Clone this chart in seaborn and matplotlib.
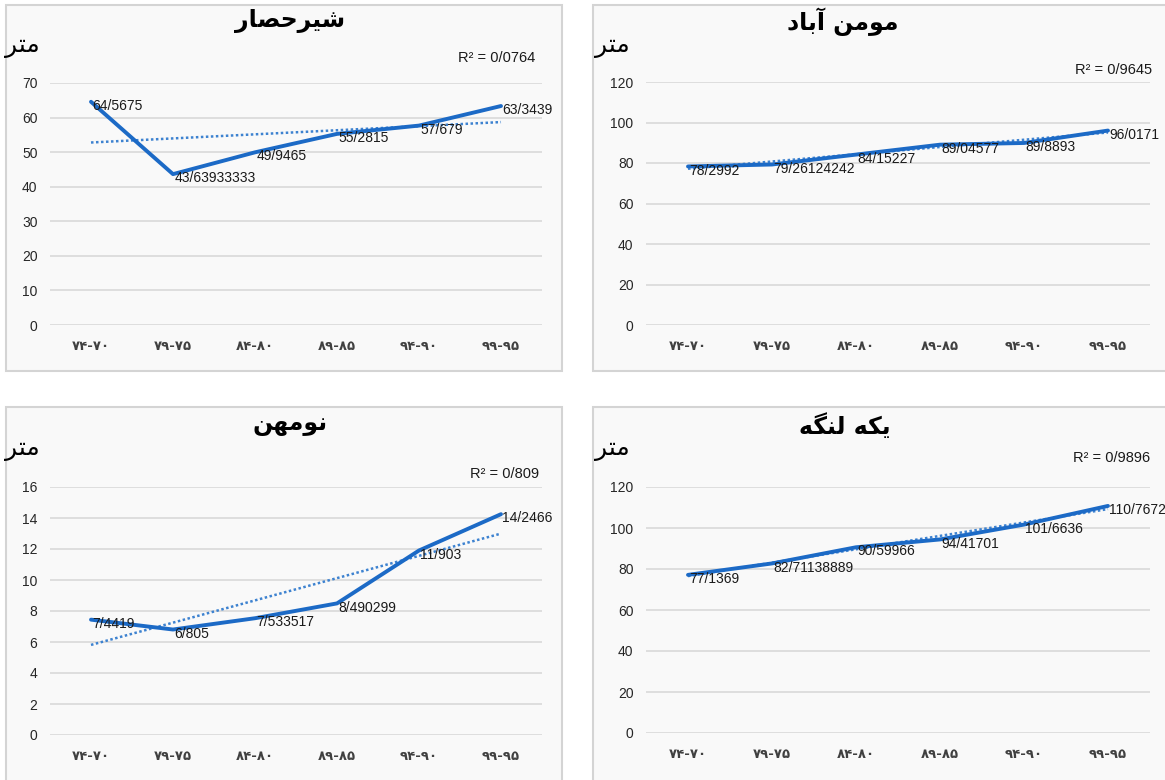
import matplotlib
matplotlib.use('Agg')
import matplotlib.pyplot as plt
from matplotlib.patches import Rectangle
import numpy as np
import seaborn as sns

# periods (Persian digits, as printed on the axis)
periods = ['۷۴-۷۰', '۷۹-۷۵', '۸۴-۸۰', '۸۹-۸۵', '۹۴-۹۰', '۹۹-۹۵']

shirhesar = [64.5675, 43.63933333, 49.9465, 55.2815, 57.679, 63.3439]
shirhesar_lbl = ['64/5675', '43/63933333', '49/9465', '55/2815', '57/679', '63/3439']

momenabad = [78.2992, 79.26124242, 84.15227, 89.04577, 89.8893, 96.0171]
momenabad_lbl = ['78/2992', '79/26124242', '84/15227', '89/04577', '89/8893', '96/0171']

nomahan = [7.4419, 6.805, 7.533517, 8.490299, 11.903, 14.2466]
nomahan_lbl = ['7/4419', '6/805', '7/533517', '8/490299', '11/903', '14/2466']

yekelange = [77.1369, 82.71138889, 90.59966, 94.41701, 101.6636, 110.7672]
yekelange_lbl = ['77/1369', '82/71138889', '90/59966', '94/41701', '101/6636', '110/7672']

titles = ['شیرحصار', 'مومن آباد', 'نومهن', 'یکه لنگه']
r2_texts = ['0/0764', '0/9645', '0/809', '0/9896']
unit = 'متر'

# --- tiny Persian shaper (matplotlib has no text shaping) ---
FORMS = {
    'ا': ('\uFE8D', '\uFE8E', None, None),
    'آ': ('\uFE81', '\uFE82', None, None),
    'ب': ('\uFE8F', '\uFE90', '\uFE91', '\uFE92'),
    'ت': ('\uFE95', '\uFE96', '\uFE97', '\uFE98'),
    'ح': ('\uFEA1', '\uFEA2', '\uFEA3', '\uFEA4'),
    'د': ('\uFEA9', '\uFEAA', None, None),
    'ر': ('\uFEAD', '\uFEAE', None, None),
    'ش': ('\uFEB5', '\uFEB6', '\uFEB7', '\uFEB8'),
    'ص': ('\uFEB9', '\uFEBA', '\uFEBB', '\uFEBC'),
    'ک': ('\uFB8E', '\uFB8F', '\uFB90', '\uFB91'),
    'گ': ('\uFB92', '\uFB93', '\uFB94', '\uFB95'),
    'ل': ('\uFEDD', '\uFEDE', '\uFEDF', '\uFEE0'),
    'م': ('\uFEE1', '\uFEE2', '\uFEE3', '\uFEE4'),
    'ن': ('\uFEE5', '\uFEE6', '\uFEE7', '\uFEE8'),
    'و': ('\uFEED', '\uFEEE', None, None),
    'ه': ('\uFEE9', '\uFEEA', '\uFEEB', '\uFEEC'),
    'ی': ('\uFBFC', '\uFBFD', '\uFBFE', '\uFBFF'),
}


def fa(text):
    out = []
    for i, ch in enumerate(text):
        if ch not in FORMS:
            out.append(ch)
            continue
        iso, fin, ini, med = FORMS[ch]
        prev = text[i - 1] if i > 0 else ''
        nxt = text[i + 1] if i + 1 < len(text) else ''
        pj = prev in FORMS and FORMS[prev][2] is not None
        nj = nxt in FORMS and ini is not None
        if pj and nj:
            out.append(med)
        elif pj:
            out.append(fin)
        elif nj:
            out.append(ini)
        else:
            out.append(iso)
    return ''.join(out)[::-1]


W, H = 1165, 780


def rect(l, t, r, b):
    return [l / W, 1 - b / H, (r - l) / W, (b - t) / H]


sns.set_theme(style='white')
NUM_FONT = ['Liberation Sans', 'DejaVu Sans']
FA_FONT = ['DejaVu Sans']

fig = plt.figure(figsize=(W / 100, H / 100), dpi=100)

panels = [
    dict(vals=shirhesar, lbls=shirhesar_lbl, title=titles[0], r2=r2_texts[0],
         box=(6, 5, 562, 371), ax=(50, 83, 542, 325), ymax=70, step=10,
         title_xy=(290, 21), r2_xy=(497, 58), unit_xy=(22, 46)),
    dict(vals=momenabad, lbls=momenabad_lbl, title=titles[1], r2=r2_texts[1],
         box=(593, 5, 1180, 371), ax=(646, 82, 1150, 325), ymax=120, step=20,
         title_xy=(843, 22), r2_xy=(1114, 70), unit_xy=(612, 46)),
    dict(vals=nomahan, lbls=nomahan_lbl, title=titles[2], r2=r2_texts[2],
         box=(6, 407, 562, 800), ax=(50, 487, 542, 735), ymax=16, step=2,
         title_xy=(290, 424), r2_xy=(505, 474), unit_xy=(22, 449)),
    dict(vals=yekelange, lbls=yekelange_lbl, title=titles[3], r2=r2_texts[3],
         box=(593, 407, 1180, 800), ax=(646, 487, 1150, 733), ymax=120, step=20,
         title_xy=(845, 426), r2_xy=(1112, 458), unit_xy=(612, 449)),
]

line_c = '#1c6ac6'
x = np.arange(len(periods))

for p in panels:
    l, t, r, b = p['box']
    box = Rectangle((l / W, 1 - b / H), (r - l) / W, (b - t) / H,
                    transform=fig.transFigure, facecolor='#f9f9f9',
                    edgecolor='#d4d4d4', linewidth=1.5, zorder=-10)
    fig.add_artist(box)

    ax = fig.add_axes(rect(*p['ax']))
    ax.patch.set_alpha(0)
    sns.regplot(x=x, y=p['vals'], ax=ax, scatter=False, ci=None,
                line_kws=dict(color='#3d82d0', lw=1.8, ls=(0, (1, 1))))
    sns.lineplot(x=x, y=p['vals'], ax=ax, color=line_c, lw=2.8)

    for xi, v, s in zip(x, p['vals'], p['lbls']):
        ax.annotate(s, (xi, v), xytext=(1, -3), textcoords='offset points',
                    ha='left', va='center', fontsize=10, color='#1a1a1a',
                    family=NUM_FONT, annotation_clip=False)

    ax.set_xlim(-0.5, len(periods) - 0.5)
    ax.set_ylim(0, p['ymax'])
    ax.set_yticks(np.arange(0, p['ymax'] + 0.1, p['step']))
    ax.set_xticks(x)
    ax.set_xticklabels(periods, fontsize=9.5, fontweight='bold', color='#404040',
                       family=FA_FONT)
    ax.set_yticklabels([f'{int(v)}' for v in ax.get_yticks()], fontsize=10,
                       color='#262626', family=NUM_FONT)
    ax.grid(axis='y', color='#d9d9d9', lw=1.2)
    ax.set_axisbelow(True)
    ax.tick_params(axis='both', length=0)
    ax.tick_params(axis='y', pad=9)
    ax.tick_params(axis='x', pad=11)
    ax.set_xlabel('')
    ax.set_ylabel('')
    sns.despine(ax=ax, left=True, bottom=True)

    tx, ty = p['title_xy']
    fig.text(tx / W, 1 - ty / H, fa(p['title']), ha='center', va='center',
             fontsize=17, fontweight='bold', color='#000000', family=FA_FONT)
    rx, ry = p['r2_xy']
    fig.text(rx / W, 1 - ry / H, f'R² = {p["r2"]}', ha='center', va='center',
             fontsize=10.5, color='#1a1a1a', family=NUM_FONT)
    ux, uy = p['unit_xy']
    fig.text(ux / W, 1 - uy / H, fa(unit), ha='center', va='center',
             fontsize=18, color='#000000', family=FA_FONT)

fig.savefig('out.png', dpi=100)
